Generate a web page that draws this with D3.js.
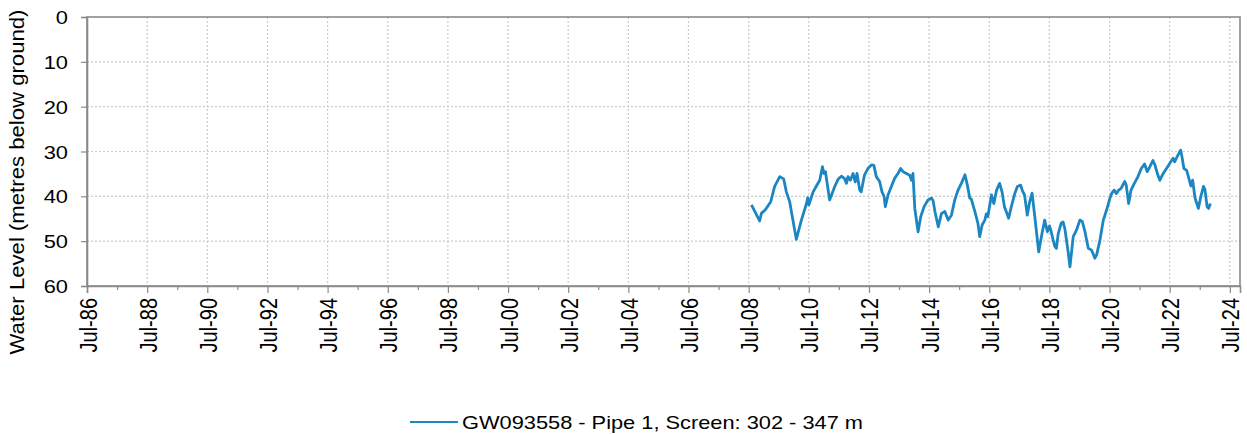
<!DOCTYPE html>
<html><head><meta charset="utf-8">
<script src="https://cdn.jsdelivr.net/npm/d3@7"></script>
<style>body{margin:0;background:#fff}svg{display:block}text{font-family:"Liberation Sans",Arial,sans-serif;fill:#000}</style>
</head><body>
<svg id="c" width="1247" height="434"></svg>
<script>
// ---- data (decimal year, water level in metres below ground) ----
const times = [2008.59,2008.86,2008.92,2009.05,2009.14,2009.23,2009.36,2009.53,2009.66,2009.75,2009.86,2010.08,2010.25,2010.42,2010.46,2010.50,2010.64,2010.75,2010.86,2010.95,2011.00,2011.05,2011.19,2011.36,2011.47,2011.58,2011.68,2011.75,2011.80,2011.88,2011.97,2012.04,2012.10,2012.19,2012.24,2012.35,2012.46,2012.58,2012.66,2012.74,2012.85,2012.93,2013.00,2013.04,2013.13,2013.24,2013.35,2013.46,2013.55,2013.63,2013.74,2013.85,2013.91,2013.96,2014.02,2014.13,2014.22,2014.33,2014.46,2014.58,2014.63,2014.69,2014.80,2014.91,2015.02,2015.13,2015.24,2015.35,2015.46,2015.57,2015.69,2015.77,2015.85,2015.90,2016.02,2016.12,2016.18,2016.26,2016.35,2016.40,2016.45,2016.57,2016.65,2016.74,2016.84,2016.92,2017.00,2017.06,2017.14,2017.23,2017.34,2017.43,2017.54,2017.60,2017.67,2017.76,2017.84,2017.92,2018.01,2018.14,2018.23,2018.34,2018.43,2018.50,2018.56,2018.62,2018.68,2018.73,2018.79,2018.89,2018.95,2019.01,2019.12,2019.18,2019.29,2019.40,2019.51,2019.59,2019.68,2019.79,2019.90,2019.95,2020.01,2020.07,2020.18,2020.29,2020.40,2020.51,2020.57,2020.65,2020.72,2020.80,2020.88,2021.00,2021.05,2021.13,2021.21,2021.32,2021.44,2021.55,2021.66,2021.75,2021.82,2021.94,2022.00,2022.10,2022.17,2022.28,2022.39,2022.50,2022.61,2022.66,2022.77,2022.86,2022.90,2022.97,2023.06,2023.15,2023.20,2023.26,2023.34,2023.45,2023.53,2023.62,2023.67,2023.74,2023.79,2023.85];
const levels = [41.9,45.5,43.8,43.0,42.1,41.2,37.8,35.6,36.1,39.0,41.2,49.6,45.3,41.6,40.3,41.9,39.0,37.7,36.4,33.4,34.9,34.5,40.8,37.8,36.2,35.5,36.0,37.1,35.6,36.4,34.9,36.8,34.9,38.6,39.0,35.2,33.8,33.0,33.1,35.6,36.7,39.0,40.1,42.3,39.7,37.8,36.0,34.9,33.8,34.5,34.9,35.3,36.4,34.9,42.7,47.9,44.5,42.3,40.8,40.4,41.0,43.4,46.8,43.8,43.4,45.3,44.2,40.8,38.6,37.1,35.2,37.5,40.4,40.6,43.4,46.0,49.0,46.4,45.3,43.9,44.5,39.7,41.6,38.6,37.1,39.0,42.3,43.4,44.9,42.3,39.5,37.8,37.5,38.8,39.7,44.2,41.2,39.3,44.5,52.4,49.0,45.3,47.9,46.6,48.0,49.7,51.2,51.6,48.3,46.0,45.7,47.2,52.4,55.7,49.0,47.5,45.3,45.6,47.9,51.6,52.0,52.8,53.8,53.0,49.7,45.3,43.0,40.4,39.3,38.6,39.4,38.6,38.2,36.7,37.5,41.6,38.6,37.1,35.6,33.8,32.8,34.5,33.6,32.0,32.9,35.2,36.4,34.9,33.8,32.6,31.5,32.3,30.8,29.7,31.0,33.8,34.2,36.4,37.7,36.4,40.4,42.7,40.1,37.8,38.5,42.3,42.7,41.6];
const tickYears = [1986,1988,1990,1992,1994,1996,1998,2000,2002,2004,2006,2008,2010,2012,2014,2016,2018,2020,2022,2024];
const yTicks = [0,10,20,30,40,50,60];
const seriesName = "GW093558 - Pipe 1, Screen: 302 - 347 m";
const yTitle = "Water Level (metres below ground)";

// ---- helpers ----
function decToDate(t){const y=Math.floor(t);const s=new Date(y,0,1),e=new Date(y+1,0,1);return new Date(+s+(t-y)*(e-s));}
const L=87, R=1240, T=17, B=286, SX=1.15;
const x=d3.scaleTime().domain([new Date(1986,6,1),new Date(2024,10,1)]).range([L,R]);
const y=d3.scaleLinear().domain([0,60]).range([T,B]);
const svg=d3.select("#c");
const fmt=d3.timeFormat("%b-%y");
const majors=tickYears.map(v=>new Date(v,6,1));
const minors=tickYears.slice(0,-1).map(v=>new Date(v+1,6,1));

// gridlines
svg.append("g").selectAll("line").data(yTicks.slice(1,-1)).join("line")
  .attr("x1",L).attr("x2",R).attr("y1",d=>y(d)).attr("y2",d=>y(d))
  .attr("stroke","#cccccc").attr("stroke-width",1.2).attr("stroke-dasharray","2,2");
svg.append("g").selectAll("line").data(majors.slice(1)).join("line")
  .attr("x1",d=>x(d)).attr("x2",d=>x(d)).attr("y1",T).attr("y2",B)
  .attr("stroke","#cccccc").attr("stroke-width",1.2).attr("stroke-dasharray","2,2");

// line
const line=d3.line().x((d,i)=>x(decToDate(times[i]))).y(d=>y(d));
svg.append("path").datum(levels).attr("d",line).attr("fill","none")
  .attr("stroke","#1b86c2").attr("stroke-width",2.8).attr("stroke-linejoin","round");

// frame
svg.append("rect").attr("x",L).attr("y",T).attr("width",R-L).attr("height",B-T)
  .attr("fill","none").attr("stroke","#8a8a8a").attr("stroke-width",1.6);

// y axis
const ya=svg.append("g").attr("transform",`translate(${L},0)`)
  .call(d3.axisLeft(y).tickValues(yTicks).tickSize(6).tickFormat(d3.format("d")));
ya.select(".domain").attr("stroke","#8a8a8a").attr("stroke-width",1.6);
ya.selectAll(".tick line").attr("stroke","#8a8a8a").attr("stroke-width",1.2);
ya.selectAll(".tick text").remove();
ya.selectAll(".tick").append("text").attr("text-anchor","end").attr("dy","0.35em")
  .attr("transform",`translate(-19,0) scale(${SX},1)`).style("font-size","19px").text(d=>d);

// x axis
const xa=svg.append("g").attr("transform",`translate(0,${B})`)
  .call(d3.axisBottom(x).tickValues(majors).tickSize(7).tickFormat(""));
xa.select(".domain").attr("stroke","#8a8a8a").attr("stroke-width",1.6);
xa.selectAll(".tick line").attr("stroke","#8a8a8a").attr("stroke-width",1.2);
xa.selectAll(".tick").append("text").attr("text-anchor","end").attr("dominant-baseline","central")
  .attr("transform",`translate(1,12) scale(${SX},1) rotate(-90)`).style("font-size","20px").text(d=>fmt(d));
svg.append("g").attr("transform",`translate(0,${B})`)
  .call(d3.axisBottom(x).tickValues(minors).tickSize(4).tickFormat(""))
  .call(g=>{g.select(".domain").remove();g.selectAll("line").attr("stroke","#8a8a8a").attr("stroke-width",1.2);});

// y title
svg.append("text").attr("transform","translate(17,182) rotate(-90)").attr("text-anchor","middle")
  .attr("dominant-baseline","central").style("font-size","20px")
  .attr("textLength",345).attr("lengthAdjust","spacingAndGlyphs").text(yTitle);

// legend
svg.append("line").attr("x1",410).attr("x2",458).attr("y1",422).attr("y2",422)
  .attr("stroke","#1b86c2").attr("stroke-width",2.2);
svg.append("text").attr("x",462).attr("y",428.5).style("font-size","19px")
  .attr("textLength",401).attr("lengthAdjust","spacingAndGlyphs").text(seriesName);
</script>
</body></html>
